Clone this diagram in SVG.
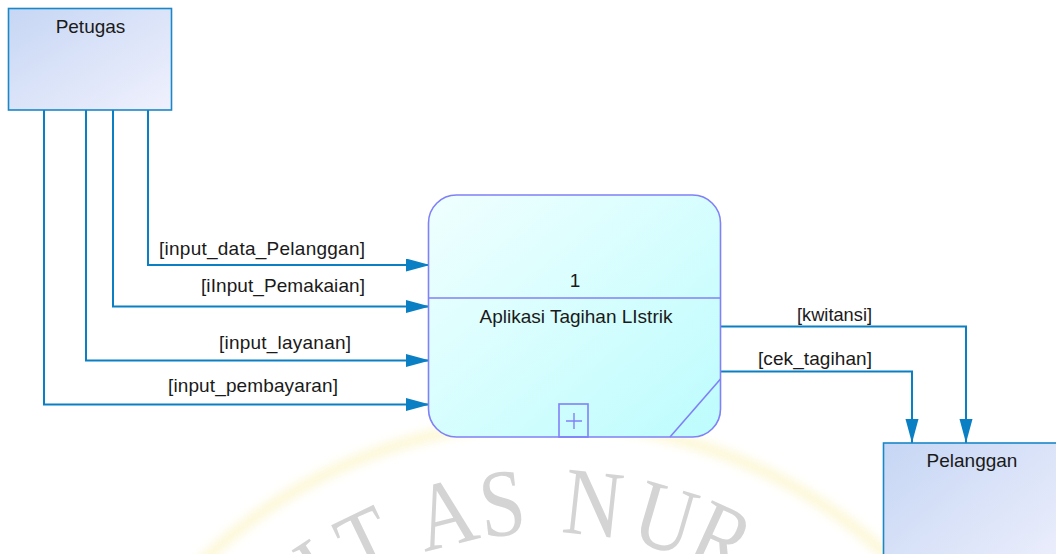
<svg xmlns="http://www.w3.org/2000/svg" width="1056" height="554" viewBox="0 0 1056 554">
  <defs>
    <linearGradient id="entityFill" x1="0" y1="0" x2="1" y2="1">
      <stop offset="0" stop-color="#c6d6f4"/>
      <stop offset="1" stop-color="#f0f1fd"/>
    </linearGradient>
    <linearGradient id="processFill" x1="0" y1="0" x2="1" y2="1">
      <stop offset="0" stop-color="#f0ffff"/>
      <stop offset="1" stop-color="#bdfcfd"/>
    </linearGradient>
    <marker id="arrow" markerUnits="userSpaceOnUse" markerWidth="26" markerHeight="14" refX="24" refY="6.5" orient="auto">
      <path d="M0 0 L24 6.5 L0 13 Z" fill="#0a7fc4"/>
    </marker>
    <filter id="soft" x="-10%" y="-10%" width="120%" height="120%">
      <feGaussianBlur stdDeviation="5"/>
    </filter>
  </defs>
  <style>
    .lbl { font-family: "Liberation Sans", Arial, sans-serif; font-size: 19px; fill: #1a1a1a; }
    .entity { fill: url(#entityFill); stroke: #1a88c8; stroke-width: 1.6; }
    .process { fill: url(#processFill); stroke: #8080f8; stroke-width: 1.6; }
    .flow { fill: none; stroke: #0a7fc4; stroke-width: 2; marker-end: url(#arrow); }
    .wm { font-family: "Liberation Serif", "Times New Roman", serif; font-size: 96px; fill: #d4d4d4; }
  </style>

  <rect width="1056" height="554" fill="#ffffff"/>

  <!-- faint seal in the background: ring plus lettering on an arc -->
  <g id="seal">
    <circle cx="548" cy="920" r="498" fill="none" stroke="#fcf6cf" stroke-width="12" opacity="0.8" filter="url(#soft)"/>
    <text class="wm" text-anchor="middle" transform="translate(548 920) rotate(-33.4) translate(0 -387) scale(0.85 1)">I</text>
    <text class="wm" text-anchor="middle" transform="translate(548 920) rotate(-25.8) translate(0 -387) scale(0.85 1)">T</text>
    <text class="wm" text-anchor="middle" transform="translate(548 920) rotate(-14.2) translate(0 -387) scale(0.85 1)">A</text>
    <text class="wm" text-anchor="middle" transform="translate(548 920) rotate(-6.3) translate(0 -387) scale(0.85 1)">S</text>
    <text class="wm" text-anchor="middle" transform="translate(548 920) rotate(6.2) translate(0 -387) scale(0.85 1)">N</text>
    <text class="wm" text-anchor="middle" transform="translate(548 920) rotate(16.3) translate(0 -387) scale(0.85 1)">U</text>
    <text class="wm" text-anchor="middle" transform="translate(548 920) rotate(24.5) translate(0 -387) scale(0.85 1)">R</text>
  </g>

  <!-- data flows -->
  <g id="connectors">
    <path class="flow" d="M148 110 V265 H430"/>
    <path class="flow" d="M113 110 V306.5 H430"/>
    <path class="flow" d="M86 110 V360.5 H430"/>
    <path class="flow" d="M44 110 V404.5 H430"/>
    <path class="flow" d="M721 326.5 H966 V443"/>
    <path class="flow" d="M721 371.5 H912 V443"/>
    <text class="lbl" x="159" y="255" textLength="206" lengthAdjust="spacing">[input_data_Pelanggan]</text>
    <text class="lbl" x="201" y="292" textLength="164" lengthAdjust="spacing">[iInput_Pemakaian]</text>
    <text class="lbl" x="219" y="349" textLength="132" lengthAdjust="spacing">[input_layanan]</text>
    <text class="lbl" x="168" y="392" textLength="170" lengthAdjust="spacing">[input_pembayaran]</text>
    <text class="lbl" x="797" y="321" textLength="75" lengthAdjust="spacingAndGlyphs">[kwitansi]</text>
    <text class="lbl" x="758" y="365" textLength="114" lengthAdjust="spacing">[cek_tagihan]</text>
  </g>

  <!-- external entity: Petugas -->
  <g id="petugas">
    <rect class="entity" x="8.5" y="8.5" width="163" height="101.5"/>
    <text class="lbl" x="90.5" y="33" text-anchor="middle">Petugas</text>
  </g>

  <!-- process 1 -->
  <g id="process1">
    <rect class="process" x="428.5" y="195" width="292" height="242" rx="28" ry="28"/>
    <line x1="428.5" y1="298" x2="720.5" y2="298" stroke="#8080f8" stroke-width="1.6"/>
    <line x1="720.5" y1="379" x2="670" y2="437" stroke="#8080f8" stroke-width="1.6"/>
    <rect x="559" y="404" width="29" height="33" fill="none" stroke="#8080f8" stroke-width="1.6"/>
    <path d="M574 413 V429 M566 421 H582" stroke="#8080f8" stroke-width="1.4" fill="none"/>
    <text class="lbl" x="575" y="287" text-anchor="middle">1</text>
    <text class="lbl" x="576" y="323" text-anchor="middle">Aplikasi Tagihan LIstrik</text>
  </g>

  <!-- external entity: Pelanggan -->
  <g id="pelanggan">
    <rect class="entity" x="883.5" y="443" width="178" height="150"/>
    <text class="lbl" x="972" y="467" text-anchor="middle">Pelanggan</text>
  </g>
</svg>
